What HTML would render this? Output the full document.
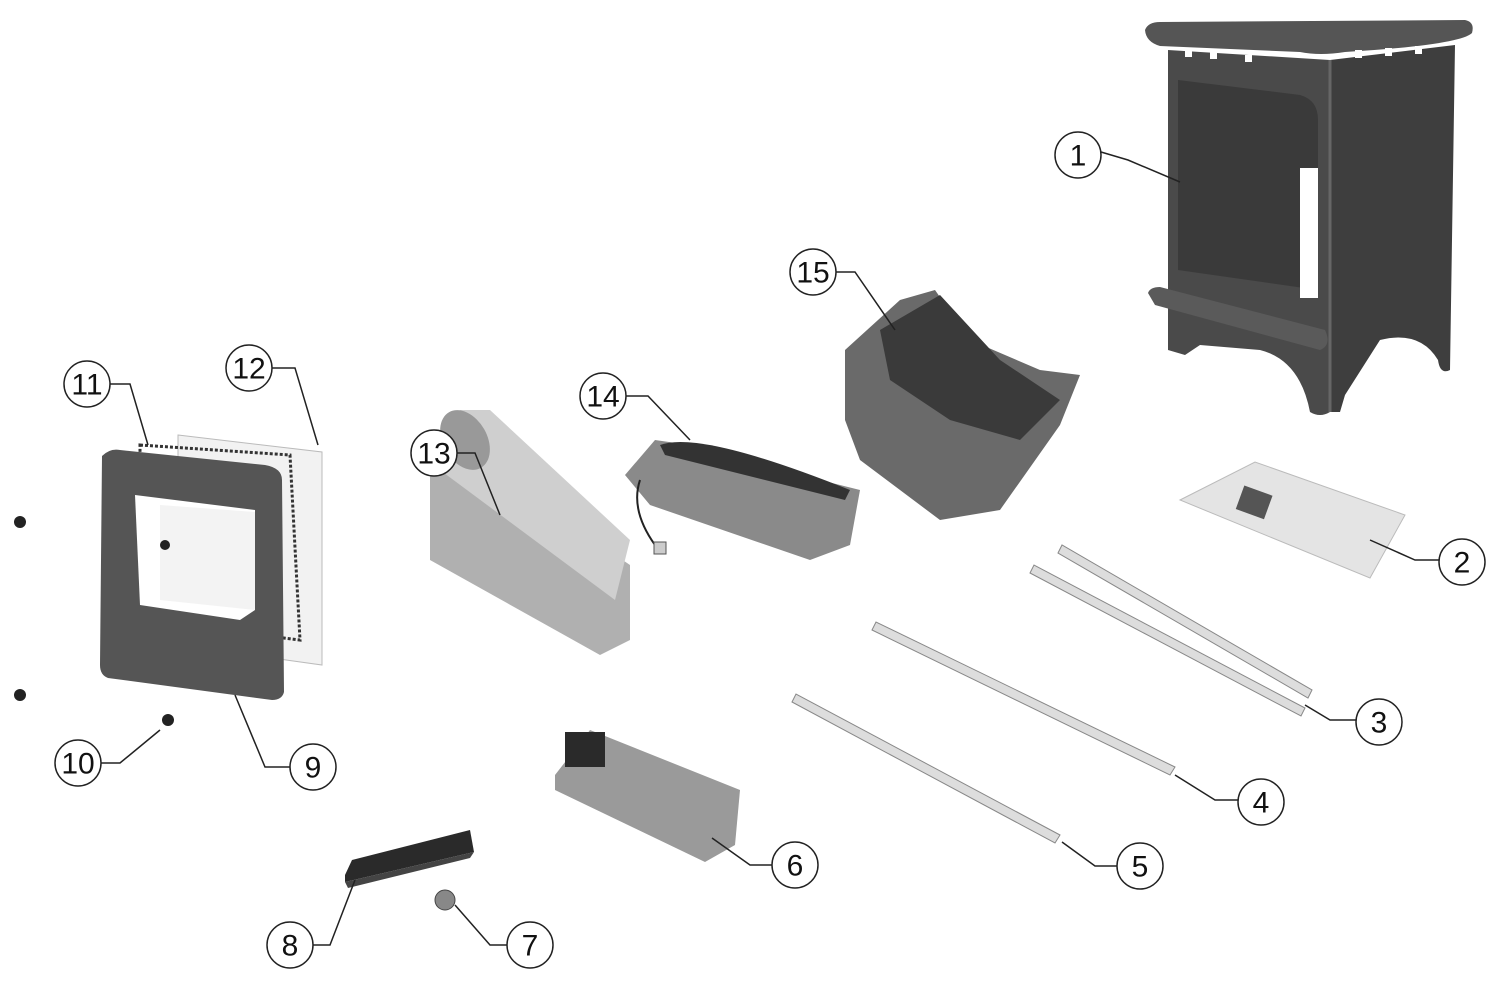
<!DOCTYPE html>
<html><head><meta charset="utf-8"><style>
html,body{margin:0;padding:0;background:#fff;}
svg{display:block}
text{font-family:"Liberation Sans",sans-serif;font-size:30px;fill:#111;text-anchor:middle;dominant-baseline:central}
</style></head><body>
<svg width="1500" height="997" viewBox="0 0 1500 997" xmlns="http://www.w3.org/2000/svg">
<g>
<path d="M1168,50 L1330,60 L1330,412 Q1320,418 1310,412 Q1300,360 1260,350 L1200,345 L1185,355 L1168,350 Z" fill="#4a4a4a"/>
<path d="M1330,60 L1455,45 L1450,370 Q1440,375 1438,360 Q1420,330 1380,340 L1345,395 L1340,412 L1330,412 Z" fill="#3e3e3e"/>
<path d="M1145,30 Q1148,22 1160,22 L1465,20 Q1475,22 1472,33 Q1460,45 1345,52 Q1320,56 1300,52 L1160,46 Q1146,42 1145,30 Z" fill="#555"/>
<g fill="#fff"><rect x="1185" y="50" width="7" height="7"/><rect x="1210" y="52" width="7" height="7"/><rect x="1245" y="55" width="7" height="7"/><rect x="1355" y="50" width="7" height="8"/><rect x="1385" y="48" width="7" height="8"/><rect x="1415" y="46" width="7" height="8"/></g>
<path d="M1178,80 L1300,95 Q1318,100 1318,120 L1318,290 L1178,270 Z" fill="#3a3a3a"/>
<rect x="1300" y="168" width="18" height="130" fill="#fff"/>
<path d="M1148,293 Q1150,287 1160,287 L1325,330 Q1332,345 1320,350 L1155,305 Z" fill="#5a5a5a"/>
<line x1="1330" y1="60" x2="1330" y2="412" stroke="#666" stroke-width="3"/>
</g>
<path d="M1180,500 L1255,462 L1405,515 L1370,578 Z" fill="#e4e4e4" stroke="#bbb"/>
<rect x="1240" y="490" width="30" height="25" fill="#555" transform="rotate(20 1255 500)"/>
<g fill="#ddd" stroke="#888" stroke-width="1">
<polygon points="1058,553 1062,545 1312,690 1308,698"/>
<polygon points="1030,573 1034,565 1305,708 1301,716"/>
<polygon points="872,630 876,622 1175,767 1170,775"/>
<polygon points="792,702 796,694 1060,835 1055,843"/>
</g>
<path d="M845,350 L900,300 L935,290 L970,340 L1040,370 L1080,375 L1060,425 L1000,510 L940,520 L860,460 L845,420 Z" fill="#6a6a6a"/>
<path d="M880,330 L940,295 L1000,360 L1060,400 L1020,440 L950,420 L890,380 Z" fill="#3a3a3a"/>
<path d="M625,475 L655,440 L690,445 L820,480 L860,490 L850,545 L810,560 L650,505 Z" fill="#8a8a8a"/>
<path d="M660,445 Q700,430 850,490 L845,500 L665,455 Z" fill="#333"/>
<path d="M640,480 Q630,510 655,545" fill="none" stroke="#222" stroke-width="2"/>
<rect x="654" y="542" width="12" height="12" fill="#ccc" stroke="#555"/>
<!-- fan -->
<path d="M430,470 L445,440 L630,565 L630,640 L600,655 L430,560 Z" fill="#b0b0b0"/>
<path d="M460,410 L490,410 L630,540 L615,600 L440,470 Z" fill="#cfcfcf"/>
<ellipse cx="465" cy="440" rx="22" ry="32" fill="#999" transform="rotate(-30 465 440)"/>
<path d="M555,775 L590,730 L740,790 L735,845 L705,862 L555,790 Z" fill="#9a9a9a"/>
<rect x="565" y="732" width="40" height="35" fill="#2a2a2a"/>
<path d="M345,875 L352,860 L470,830 L474,852 L345,882 Z" fill="#2a2a2a"/>
<path d="M345,882 L474,852 L470,858 L348,888 Z" fill="#444"/>
<circle cx="445" cy="900" r="10" fill="#888" stroke="#444"/>
<polygon points="178,435 322,452 322,665 178,645" fill="#f2f2f2" stroke="#bbb"/>
<path d="M140,445 L290,455 L300,640 L140,620 Z" fill="none" stroke="#333" stroke-width="3" stroke-dasharray="3,2"/>
<path d="M102,456 Q110,448 120,450 L265,465 Q282,468 282,480 L284,692 Q282,700 272,700 L108,678 Q100,675 100,665 Z" fill="#555"/>
<path d="M135,495 L255,510 L255,610 L240,620 L140,605 Z" fill="#fff"/>
<path d="M160,505 L255,512 L255,610 L160,600 Z" fill="#f3f3f3"/>
<g fill="#222"><circle cx="20" cy="522" r="6"/><circle cx="20" cy="695" r="6"/><circle cx="168" cy="720" r="6"/><circle cx="165" cy="545" r="5"/></g>
<g stroke="#222" stroke-width="1.5" fill="none">
<path d="M1101,152 L1128,160 L1180,182"/>
<path d="M1440,560 L1415,560 L1370,540"/>
<path d="M1356,720 L1330,720 L1305,705"/>
<path d="M1238,800 L1215,800 L1175,775"/>
<path d="M1117,866 L1095,866 L1062,842"/>
<path d="M772,865 L750,865 L712,838"/>
<path d="M507,945 L490,945 L455,905"/>
<path d="M313,945 L330,945 L355,880"/>
<path d="M290,767 L265,767 L235,695"/>
<path d="M101,763 L120,763 L160,730"/>
<path d="M110,384 L130,384 L148,445"/>
<path d="M272,368 L295,368 L318,445"/>
<path d="M457,453 L475,453 L500,515"/>
<path d="M626,396 L648,396 L690,440"/>
<path d="M836,272 L855,272 L895,330"/>
</g>
<g fill="#fff" stroke="#222" stroke-width="1.5">
<circle cx="1078" cy="155" r="23"/><circle cx="1462" cy="562" r="23"/><circle cx="1379" cy="722" r="23"/><circle cx="1261" cy="802" r="23"/><circle cx="1140" cy="866" r="23"/><circle cx="795" cy="865" r="23"/><circle cx="530" cy="945" r="23"/><circle cx="290" cy="945" r="23"/><circle cx="313" cy="767" r="23"/><circle cx="78" cy="763" r="23"/><circle cx="87" cy="384" r="23"/><circle cx="249" cy="368" r="23"/><circle cx="434" cy="453" r="23"/><circle cx="603" cy="396" r="23"/><circle cx="813" cy="272" r="23"/>
</g>
<text x="1078" y="156">1</text><text x="1462" y="563">2</text><text x="1379" y="723">3</text><text x="1261" y="803">4</text><text x="1140" y="867">5</text><text x="795" y="866">6</text><text x="530" y="946">7</text><text x="290" y="946">8</text><text x="313" y="768">9</text><text x="78" y="764">10</text><text x="87" y="385">11</text><text x="249" y="369">12</text><text x="434" y="454">13</text><text x="603" y="397">14</text><text x="813" y="273">15</text>
</svg>
</body></html>
